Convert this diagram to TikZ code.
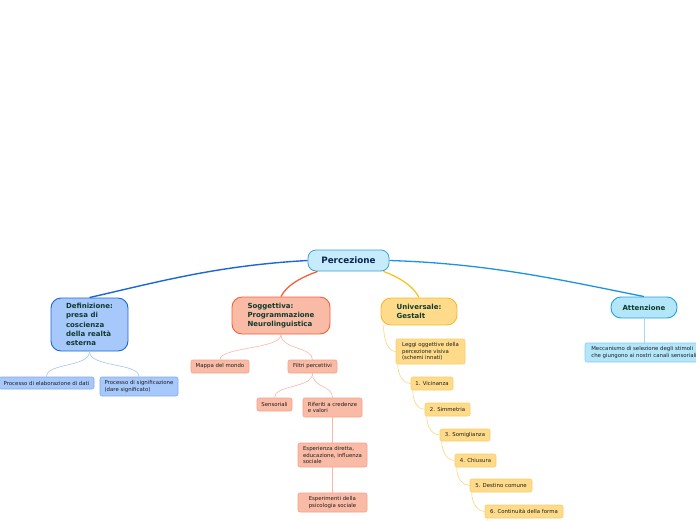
\documentclass[tikz,border=0pt]{standalone}
\usepackage{fontspec}
\setmainfont{DejaVu Sans}
\usetikzlibrary{calc}

\definecolor{rootfill}{HTML}{C6ECFC}
\definecolor{rootline}{HTML}{3E9FD6}
\definecolor{bluefill}{HTML}{A7C8FA}
\definecolor{blueline}{HTML}{1C67D8}
\definecolor{redfill}{HTML}{F9BBA6}
\definecolor{redline}{HTML}{F2603A}
\definecolor{yelfill}{HTML}{FEDB8B}
\definecolor{yelline}{HTML}{F7BA2A}
\definecolor{skyfill}{HTML}{B4E6FA}
\definecolor{skyline}{HTML}{1FA2E2}
\definecolor{darktext}{HTML}{0E3B2E}
\definecolor{roottext}{HTML}{0B2550}

\tikzset{
  rootbox/.style={draw=rootline, fill=rootfill, line width=0.8pt, rounded corners=8pt,
    font=\fontsize{8.8}{10}\selectfont\bfseries, text=roottext, inner sep=0pt},
  mainbox/.style={draw, line width=0.9pt, rounded corners=10pt, align=left, inner sep=0pt,
    font=\fontsize{7}{9.3}\selectfont\bfseries, text=darktext},
  leafbox/.style={draw, line width=0.6pt, rounded corners=2pt, align=left, inner sep=0pt,
    font=\fontsize{5.4}{6.6}\selectfont, text=black!88},
  bluebranch/.style={draw=blueline, line width=1.4pt},
  redbranch/.style={draw=redline, line width=1.3pt},
  yelbranch/.style={draw=yelline!85!yellow, line width=1.3pt},
  skybranch/.style={draw=skyline!90!blue, line width=1.3pt},
  twig/.style={line width=0.6pt}
}

\begin{document}
\begin{tikzpicture}[x=1pt,y=-1pt]

\useasboundingbox (0,0) rectangle (696,520);

% central topic
\node[rootbox, minimum width=81pt, minimum height=21pt] (perc) at (348.5,260.5) {Percezione};

% main topics
\node[mainbox, draw=blueline, fill=bluefill, minimum width=77pt, minimum height=53pt] (defi) at (89.5,324.5)
  {Definizione:\\presa di\\coscienza\\della realtà\\esterna};
\node[mainbox, draw=redline, fill=redfill, minimum width=98pt, minimum height=37pt] (sogg) at (281,315.5)
  {Soggettiva:\\Programmazione\\Neurolinguistica};
\node[mainbox, draw=yelline, fill=yelfill, minimum width=76pt, minimum height=27pt] (univ) at (419,311.5)
  {Universale:\\Gestalt};
\node[mainbox, draw=skyline, fill=skyfill, minimum width=66pt, minimum height=21pt] (att) at (644,307.5)
  {Attenzione};

% blue leaves
\node[leafbox, draw=blueline!55, fill=bluefill, minimum width=95pt, minimum height=12pt] (elab) at (46.5,383)
  {Processo di elaborazione di dati};
\node[leafbox, draw=blueline!55, fill=bluefill, minimum width=78pt, minimum height=19pt] (signif) at (139,386.5)
  {Processo di significazione\\(dare significato)};

% red leaves
\node[leafbox, draw=redline!60, fill=redfill, minimum width=58pt, minimum height=13pt] (mappa) at (220,366.5) {Mappa del mondo};
\node[leafbox, draw=redline!60, fill=redfill, minimum width=49pt, minimum height=13pt] (filtri) at (312.5,366.5) {Filtri percettivi};
\node[leafbox, draw=redline!60, fill=redfill, minimum width=35pt, minimum height=13pt] (sens) at (274.5,404.5) {Sensoriali};
\node[leafbox, draw=redline!60, fill=redfill, minimum width=59pt, minimum height=19pt] (rifer) at (332.5,407.5)
  {Riferiti a credenze\\e valori};
\node[leafbox, draw=redline!60, fill=redfill, minimum width=69pt, minimum height=24pt] (esper) at (332.5,455)
  {Esperienza diretta,\\educazione, influenza\\sociale};
\node[leafbox, draw=redline!60, fill=redfill, minimum width=69pt, minimum height=19pt] (psico) at (332.5,502.5)
  {Esperimenti della\\psicologia sociale};

% yellow leaves
\node[leafbox, draw=yelline!70, fill=yelfill, minimum width=69pt, minimum height=25pt] (leggi) at (430.5,351.5)
  {Leggi oggettive della\\percezione visiva\\(schemi innati)};
\node[leafbox, draw=yelline!70, fill=yelfill, minimum width=42pt, minimum height=13pt] (vic) at (432,383.5) {1. Vicinanza};
\node[leafbox, draw=yelline!70, fill=yelfill, minimum width=45pt, minimum height=13pt] (simm) at (447.5,409.5) {2. Simmetria};
\node[leafbox, draw=yelline!70, fill=yelfill, minimum width=50pt, minimum height=12pt] (somig) at (465,435) {3. Somiglianza};
\node[leafbox, draw=yelline!70, fill=yelfill, minimum width=41pt, minimum height=13pt] (chius) at (475.5,460.5) {4. Chiusura};
\node[leafbox, draw=yelline!70, fill=yelfill, minimum width=62pt, minimum height=13pt] (dest) at (501,485.5) {5. Destino comune};
\node[leafbox, draw=yelline!70, fill=yelfill, minimum width=78pt, minimum height=13pt] (cont) at (524,511.5) {6. Continuità della forma};

% sky leaf
\node[leafbox, draw=skyline!55, fill=skyfill, minimum width=118pt, minimum height=19pt] (mecc) at (644,352.5)
  {Meccanismo di selezione degli stimoli\\che giungono ai nostri canali sensoriali};

\coordinate (below) at (490,530);

% main branches
\draw[bluebranch] (perc.west) .. controls +(-90,5) and +(70,-16) .. (defi.north);
\draw[redbranch] ([xshift=10pt]perc.south west) .. controls +(-16,6) and +(6,-12) .. (sogg.north);
\draw[yelbranch] ([xshift=-6pt]perc.south east) .. controls +(16,6) and +(-6,-12) .. (univ.north);
\draw[skybranch] (perc.east) .. controls +(100,3) and +(-80,-16) .. (att.north);

% twigs
\foreach \a/\b in {defi/elab, defi/signif}
  \draw[twig, blueline!40] (\a.south) .. controls +(0,16) and +(0,-14) .. (\b.north);
\foreach \a/\b in {sogg/mappa, sogg/filtri, filtri/sens, filtri/rifer}
  \draw[twig, redline!45] (\a.south) .. controls +(0,15) and +(0,-13) .. (\b.north);
\draw[twig, redline!45] (rifer) -- (esper);
\draw[twig, redline!45] (esper) -- (psico);

\draw[twig, yelline!60] ([xshift=3pt]univ.south west) .. controls +(0,14) and +(-8,0) .. (leggi.west);
\foreach \a/\b in {leggi/vic, vic/simm, simm/somig, somig/chius, chius/dest, dest/cont}
  \draw[twig, yelline!60] ([xshift=2pt]\a.south west) .. controls +(0,11) and +(-7,0) .. (\b.west);
\draw[twig, yelline!60] ([xshift=3pt]cont.south west) .. controls +(0,6) and +(0,-6) .. (below);

\draw[twig, skyline!40] (att) -- (mecc);

\end{tikzpicture}
\end{document}
